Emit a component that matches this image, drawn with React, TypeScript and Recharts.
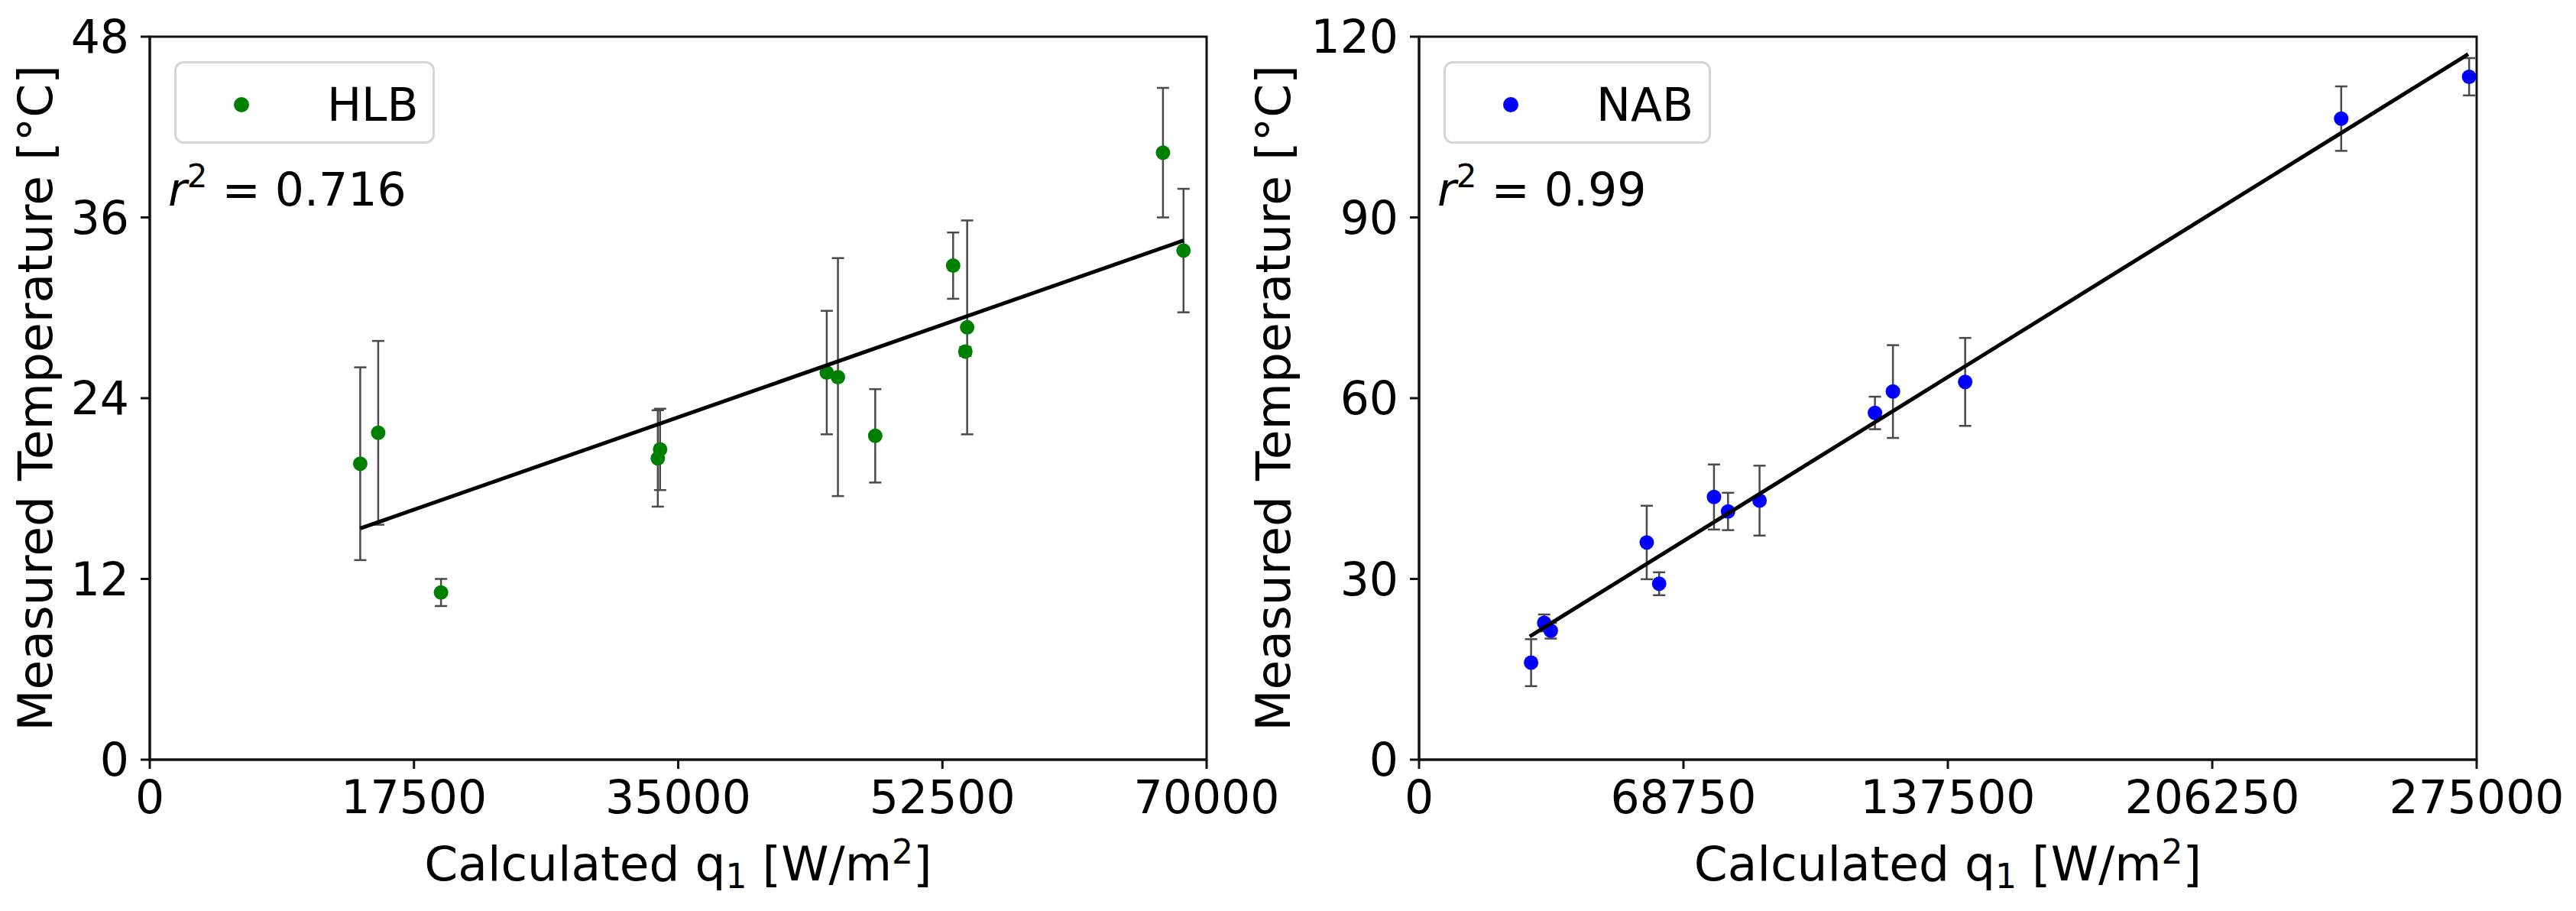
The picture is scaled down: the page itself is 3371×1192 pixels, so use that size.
import React from "react";
import {
  ScatterChart,
  Scatter,
  XAxis,
  YAxis,
  ErrorBar,
  ReferenceArea,
  Legend,
} from "recharts";

const FONT = "'DejaVu Sans', sans-serif";

// HLB panel
const hlbQ = [13940, 15130, 19290, 33650, 33800, 44840, 45580, 48050, 53210, 54020, 54140, 67110, 68470];
const hlbTemp = [19.65, 21.7, 11.1, 20.0, 20.6, 25.7, 25.4, 21.5, 32.8, 27.1, 28.7, 40.3, 33.8];
const hlbErr = [6.4, 6.1, 0.9, 3.2, 2.7, 4.1, 7.9, 3.1, 2.2, 0.3, 7.1, 4.3, 4.1];
const hlbFitQ = [13940, 68470];
const hlbFitTemp = [15.35, 34.47];
const hlbQTicks = [0, 17500, 35000, 52500, 70000];
const hlbTempTicks = [0, 12, 24, 36, 48];

// NAB panel
const nabQ = [29130, 32540, 34250, 59200, 62430, 76690, 80340, 88540, 118540, 123220, 142000, 239780, 273040];
const nabTemp = [16.1, 22.7, 21.4, 36.05, 29.2, 43.6, 41.2, 43.0, 57.55, 61.1, 62.7, 106.4, 113.35];
const nabErr = [3.9, 1.4, 1.3, 6.1, 1.9, 5.4, 3.1, 5.8, 2.7, 7.7, 7.3, 5.35, 3.1];
const nabFitQ = [28770, 272800];
const nabFitTemp = [20.45, 117.1];
const nabQTicks = [0, 68750, 137500, 206250, 275000];
const nabTempTicks = [0, 30, 60, 90, 120];

const rows = (q: number[], t: number[], e?: number[]) =>
  q.map((v, i) => ({ q: v, t: t[i], err: e ? e[i] : 0 }));

const H = 1192;
const TOP = 48;
const BOTTOM_AXIS = 198;

function XLabel({ viewBox }: any) {
  const cx = viewBox.x + viewBox.width / 2;
  const y = viewBox.y + 158;
  return (
    <text x={cx} y={y} textAnchor="middle" fontSize={63} fontFamily={FONT} fill="#000">
      Calculated q<tspan fontSize={44} dy={10}>1</tspan>
      <tspan dy={-10}> [W/m</tspan>
      <tspan fontSize={44} dy={-22}>2</tspan>
      <tspan dy={22}>]</tspan>
    </text>
  );
}

function YLabel({ viewBox, bx }: any) {
  const cy = viewBox.y + viewBox.height / 2;
  return (
    <text
      x={bx}
      y={cy}
      transform={`rotate(-90 ${bx} ${cy})`}
      textAnchor="middle"
      fontSize={63}
      fontFamily={FONT}
      fill="#000"
    >
      Measured Temperature [°C]
    </text>
  );
}

function LegendBox({ color, name, width }: { color: string; name: string; width: number }) {
  return (
    <div
      style={{
        position: "relative",
        width,
        height: 108,
        boxSizing: "border-box",
        border: "3px solid #d6d6d6",
        borderRadius: 12,
        background: "rgba(255,255,255,0.8)",
        fontFamily: FONT,
      }}
    >
      <span
        style={{
          position: "absolute",
          left: 85 - 10,
          top: 54 - 10,
          width: 20,
          height: 20,
          borderRadius: "50%",
          background: color,
        }}
      />
      <span
        style={{
          position: "absolute",
          left: 197,
          top: 0,
          lineHeight: "108px",
          fontSize: 60,
          color: "#000",
        }}
      >
        {name}
      </span>
    </div>
  );
}

type PanelProps = {
  left: number;
  width: number;
  axisWidth: number;
  marginRight: number;
  qTicks: number[];
  tempTicks: number[];
  q: number[];
  temp: number[];
  err: number[];
  fitQ: number[];
  fitTemp: number[];
  color: string;
  name: string;
  r2: string;
  yLabelX: number;
  legendLeft: number;
  legendWidth: number;
  r2X: number;
};

function Panel(p: PanelProps) {
  const data = rows(p.q, p.temp, p.err);
  const fit = rows(p.fitQ, p.fitTemp);
  const qMax = p.qTicks[p.qTicks.length - 1];
  const tMax = p.tempTicks[p.tempTicks.length - 1];
  const axisStyle = { stroke: "#111", strokeWidth: 3 };
  return (
    <div style={{ position: "absolute", left: p.left, top: 0, width: p.width, height: H }}>
      <ScatterChart
        width={p.width}
        height={H}
        margin={{ top: TOP, right: p.marginRight, bottom: 0, left: 0 }}
        style={{ overflow: "visible" }}
      >
        <ReferenceArea
          x1={0}
          x2={qMax}
          y1={0}
          y2={tMax}
          fill="none"
          stroke="#111"
          strokeWidth={3}
          ifOverflow="visible"
        />
        <XAxis
          type="number"
          dataKey="q"
          domain={[0, qMax]}
          ticks={p.qTicks}
          interval={0}
          allowDataOverflow
          height={BOTTOM_AXIS}
          tickSize={12}
          tickMargin={15}
          axisLine={axisStyle}
          tickLine={axisStyle}
          tick={{ fill: "#000", fontSize: 60, fontFamily: FONT }}
          label={<XLabel />}
        />
        <YAxis
          type="number"
          dataKey="t"
          domain={[0, tMax]}
          ticks={p.tempTicks}
          interval={0}
          allowDataOverflow
          width={p.axisWidth}
          tickSize={12}
          tickMargin={15}
          axisLine={axisStyle}
          tickLine={axisStyle}
          tick={{ fill: "#000", fontSize: 60, fontFamily: FONT }}
          label={<YLabel bx={p.yLabelX} />}
        />
        <Legend
          layout="horizontal"
          verticalAlign="middle"
          align="center"
          wrapperStyle={{ left: p.legendLeft, top: 80, width: p.legendWidth, height: 108 }}
          content={() => <LegendBox color={p.color} name={p.name} width={p.legendWidth} />}
        />
        <Scatter
          name={p.name}
          data={data}
          fill={p.color}
          isAnimationActive={false}
          shape={(s: any) => <circle cx={s.cx} cy={s.cy} r={9.5} fill={p.color} />}
        >
          <ErrorBar dataKey="err" direction="y" width={8} stroke="#4a4a4a" strokeWidth={2.5} />
        </Scatter>
        <Scatter
          name="fit"
          data={fit}
          legendType="none"
          isAnimationActive={false}
          line={{ stroke: "#000", strokeWidth: 5 }}
          shape={() => <g />}
        />
      </ScatterChart>
      <svg
        width={p.width}
        height={H}
        style={{ position: "absolute", left: 0, top: 0, pointerEvents: "none" }}
      >
        <text x={p.r2X} y={269} fontSize={60} fontFamily={FONT} fill="#000">
          <tspan fontStyle="italic">r</tspan>
          <tspan fontSize={42} dy={-24}>2</tspan>
          <tspan dy={24}> = {p.r2}</tspan>
        </text>
      </svg>
    </div>
  );
}

export default function App() {
  return (
    <div
      style={{
        position: "absolute",
        left: 0,
        top: 0,
        width: 3371,
        height: H,
        background: "#fff",
        overflow: "hidden",
      }}
    >
      <Panel
        left={0}
        width={1700}
        axisWidth={196}
        marginRight={121}
        qTicks={hlbQTicks}
        tempTicks={hlbTempTicks}
        q={hlbQ}
        temp={hlbTemp}
        err={hlbErr}
        fitQ={hlbFitQ}
        fitTemp={hlbFitTemp}
        color="#008000"
        name="HLB"
        r2="0.716"
        yLabelX={68}
        legendLeft={228}
        legendWidth={341}
        r2X={220}
      />
      <Panel
        left={1600}
        width={1771}
        axisWidth={257}
        marginRight={130}
        qTicks={nabQTicks}
        tempTicks={nabTempTicks}
        q={nabQ}
        temp={nabTemp}
        err={nabErr}
        fitQ={nabFitQ}
        fitTemp={nabFitTemp}
        color="#0000ff"
        name="NAB"
        r2="0.99"
        yLabelX={88}
        legendLeft={289}
        legendWidth={350}
        r2X={281}
      />
    </div>
  );
}
